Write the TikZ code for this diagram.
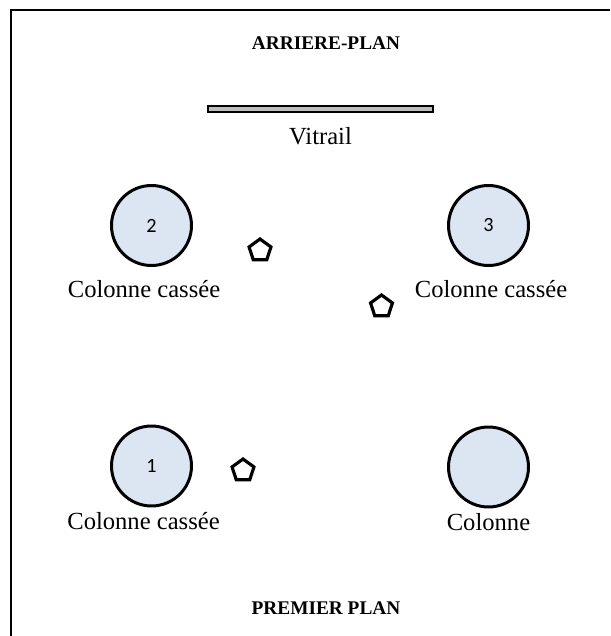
\documentclass[tikz,border=0pt]{standalone}
\usepackage{fontspec}
\setmainfont{Liberation Serif}
\newfontfamily\numfont{Carlito}
\usetikzlibrary{positioning,shapes.geometric}
\definecolor{colfill}{RGB}{220,230,242}
\definecolor{glass}{RGB}{190,190,190}

\begin{document}
\begin{tikzpicture}[
      x=0.02cm,y=-0.02cm,
      column/.style={circle,draw,line width=1.7pt,fill=colfill,
        minimum size=1.6cm,inner sep=0pt,
        font=\numfont\fontsize{11.5}{13}\selectfont},
      lbl/.style={inner sep=0pt,font=\fontsize{14}{16}\selectfont},
      plan/.style={inner sep=0pt,font=\bfseries\fontsize{11}{13}\selectfont},
      statue/.style={regular polygon,regular polygon sides=5,draw,
        line width=1.8pt,minimum size=0.46cm,inner sep=0pt}
    ]
      \useasboundingbox (0,0) rectangle (610,636);
      \draw[line width=1.1pt] (11,636) -- (11,10) -- (610,10);

      \node[plan] (back) at (326,43) {ARRIERE-PLAN};
      \node[plan] (front) at (326,608) {PREMIER PLAN};

      \node[draw,fill=glass,line width=0.6pt,minimum width=4.5cm,
        minimum height=0.12cm,inner sep=0pt] (glassbar) at (320.5,109) {};
      \node[lbl,below=0.3cm of glassbar] (vitrail) {Vitrail};

      \node[column] (c2) at (151.5,225.5) {2};
      \node[column] (c3) at (488.5,225.5) {3};
      \node[column] (c1) at (151.5,466) {1};
      \node[column] (c4) at (488.5,467) {};

      \node[lbl,below=0.26cm of c2,xshift=-0.15cm] (l2) {Colonne cassée};
      \node[lbl,below=0.26cm of c3,xshift=0.05cm] (l3) {Colonne cassée};
      \node[lbl,below=0.1cm of c1,xshift=-0.16cm] (l1) {Colonne cassée};
      \node[lbl,below=0.1cm of c4] (l4) {Colonne};

      \node[statue] (s1) at (260,250.5) {};
      \node[statue] (s2) at (381.5,306.5) {};
      \node[statue] (s3) at (243,470.5) {};
    \end{tikzpicture}
\end{document}
